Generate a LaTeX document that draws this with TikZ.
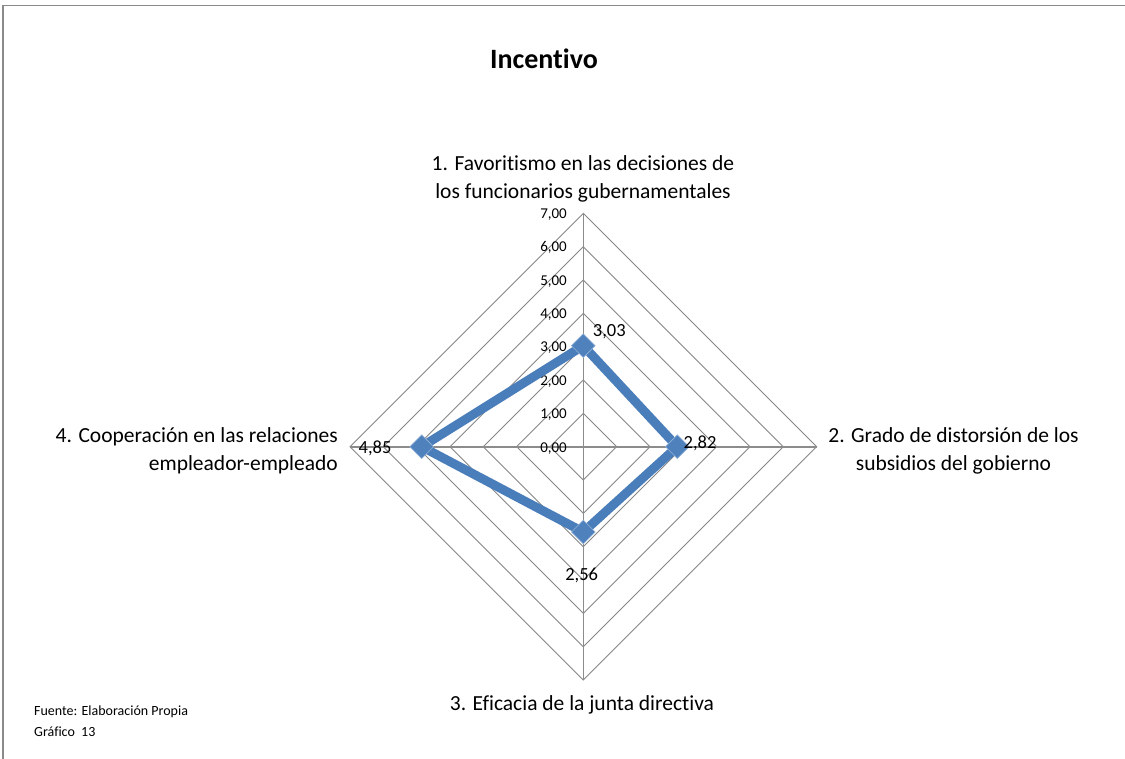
\documentclass[tikz,border=0pt]{standalone}
\usepackage{fontspec}
\setmainfont{Carlito}[Ligatures=NoCommon]
\usetikzlibrary{shapes.geometric}
\definecolor{gridgray}{HTML}{868686}
\definecolor{axisgray}{HTML}{8C8C8C}
\definecolor{serieblue}{HTML}{4A7EBB}
\definecolor{markerblue}{HTML}{4F81BD}
\definecolor{framegray}{HTML}{8A8A8A}
\tikzset{
  ring/.style={draw=gridgray, line width=0.9pt},
  spoke/.style={draw=axisgray, line width=1.6pt},
  series/.style={draw=serieblue, line width=9pt, line join=round},
  marker/.style={diamond, fill=markerblue, draw=markerblue!60!white, line width=0.6pt,
    minimum width=24pt, minimum height=24pt, inner sep=0pt},
  ticklbl/.style={font=\fontsize{15}{18}\selectfont, anchor=east, inner sep=0pt},
  vallbl/.style={font=\fontsize{18.5}{22}\selectfont, inner sep=0pt},
  catlbl/.style={font=\fontsize{21.5}{28}\selectfont, inner sep=0pt},
  foot/.style={font=\fontsize{14}{20}\selectfont, inner sep=0pt, anchor=west, align=left}
}
\begin{document}
\begin{tikzpicture}[x=1pt, y=-1pt]
\useasboundingbox (0,0) rectangle (1125,759);
% frame
\coordinate (fbl) at (3,760);
\coordinate (ftl) at (3,5.5);
\coordinate (ftr) at (1126,5.5);
\draw[framegray, line width=1.2pt] (fbl) -- (ftl) -- (ftr);
% title
\node[font=\fontsize{28}{32}\selectfont\bfseries, inner sep=0pt] (title) at (544,59) {Incentivo};
% center
\coordinate (C) at (583.3,446.7);
% rings
\foreach \k in {1,...,7}{
  \draw[ring] (583.3,{446.7-33.333*\k}) -- ({583.3+33.333*\k},446.7)
     -- (583.3,{446.7+33.333*\k}) -- ({583.3-33.333*\k},446.7) -- cycle;
}
% spokes
\coordinate (top) at (583.3,213.4);
\coordinate (right) at (816.6,446.7);
\coordinate (bottom) at (583.3,680);
\coordinate (left) at (350,446.7);
\draw[spoke] (top) -- (bottom);
\draw[spoke] (left) -- (right);
% tick labels
\foreach \k/\t in {0/{0,00},1/{1,00},2/{2,00},3/{3,00},4/{4,00},5/{5,00},6/{6,00},7/{7,00}}{
  \node[ticklbl] (tick\k) at (567,{448.3-33.43*\k}) {\t};
}
% data
\coordinate (d1) at (583.3,345.7);
\coordinate (d2) at (677.3,446.7);
\coordinate (d3) at (583.3,532.0);
\coordinate (d4) at (421.7,446.7);
\draw[series] (d1) -- (d2) -- (d3) -- (d4) -- cycle;
\node[marker] (m1) at (d1) {};
\node[marker] (m2) at (d2) {};
\node[marker] (m3) at (d3) {};
\node[marker] (m4) at (d4) {};
% value labels
\node[vallbl] (v1) at (609.3,331.7) {3,03};
\node[vallbl] (v2) at (700,443.3) {2,82};
\node[vallbl] (v3) at (581.7,575.7) {2,56};
\node[vallbl] (v4) at (375,448.3) {4,85};
% category labels
\node[catlbl, align=center] (c1) at (583,179) {1. Favoritismo en las decisiones de\\los funcionarios gubernamentales};
\node[catlbl, align=center] (c2) at (953.5,451) {2. Grado de distorsión de los\\subsidios del gobierno};
\node[catlbl] (c3) at (582,705) {3. Eficacia de la junta directiva};
\node[catlbl, align=right, anchor=east] (c4) at (338,451) {4. Cooperación en las relaciones\\empleador-empleado};
% footer
\node[foot] (f1) at (34,712) {Fuente: Elaboración Propia};
\node[foot] (f2) at (34,732) {Gráfico\ \ 13};
\end{tikzpicture}
\end{document}
